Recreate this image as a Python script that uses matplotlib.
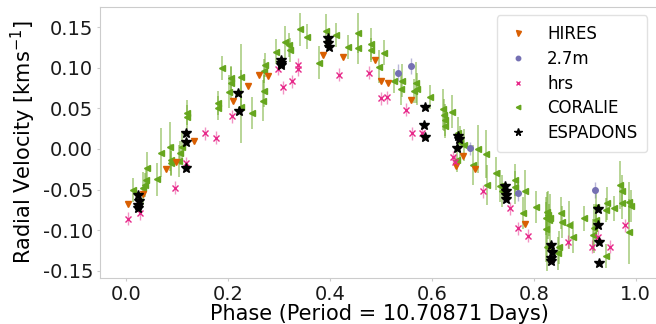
import matplotlib
matplotlib.use('Agg')
import matplotlib.pyplot as plt
import numpy as np

plt.rcParams['font.family'] = 'DejaVu Sans'
plt.rcParams['font.size'] = 14

# Phase-folded radial velocities per instrument (km/s)
hires_phase = [0.0024, 0.0318, 0.0776, 0.0972, 0.1336, 0.2098, 0.2393, 0.2609,
               0.2786, 0.3860, 0.4248, 0.4888, 0.4994, 0.5132, 0.5583, 0.6468,
               0.6617, 0.6847, 0.7829]
hires_rv = [-0.0679, -0.0559, -0.0251, -0.0160, 0.0102, 0.0593, 0.0778, 0.0914,
            0.0901, 0.1160, 0.1132, 0.1099, 0.0843, 0.0811, 0.0605, -0.0206,
            -0.0083, -0.0251, -0.0930]

m27_phase = [0.5328, 0.5589, 0.6749, 0.7697, 0.9204]
m27_rv = [0.0942, 0.1025, 0.0009, -0.0543, -0.0506]
m27_err = [0.010, 0.010, 0.008, 0.010, 0.010]

hrs_phase = [0.0035, 0.0265, 0.0953, 0.1163, 0.1542, 0.1764, 0.2067, 0.2971,
             0.3081, 0.3246, 0.3360, 0.3360, 0.4175, 0.4764, 0.4994, 0.5124,
             0.5485, 0.5603, 0.5805, 0.6420, 0.6454, 0.7010, 0.7534, 0.7682,
             0.7894, 0.8680, 0.9139, 0.9269, 0.9499, 0.9794]
hrs_rv = [-0.0860, -0.0794, -0.0479, -0.0173, 0.0194, 0.0136, 0.0401, 0.0988,
          0.0759, 0.0836, 0.1037, 0.0981, 0.0914, 0.0942, 0.0626, 0.0638,
          0.0481, 0.0194, 0.0201, -0.0102, -0.0157, -0.0521, -0.0732, -0.0975,
          -0.1068, -0.1144, -0.1206, -0.1083, -0.1206, -0.0938]
hrs_err = [0.008] * len(hrs_rv)

coralie_phase = [0.0134, 0.0330, 0.0363, 0.0397, 0.0383, 0.0599, 0.0672, 0.0855,
                 0.0874, 0.0874, 0.1084, 0.1051, 0.1031, 0.1183, 0.1183, 0.1870,
                 0.1804, 0.1798, 0.2053, 0.2059, 0.2020, 0.2259, 0.2250, 0.2460,
                 0.2721, 0.2701, 0.2692, 0.2676, 0.2937, 0.3114, 0.3198, 0.3212,
                 0.3399, 0.3540, 0.3788, 0.3913, 0.4116, 0.4554, 0.4554, 0.4358,
                 0.4798, 0.4804, 0.5065, 0.4961, 0.5261, 0.5407, 0.5399, 0.5688,
                 0.5701, 0.5654, 0.5969, 0.6224, 0.6244, 0.6257, 0.6257, 0.6389,
                 0.6519, 0.6552, 0.6631, 0.6499, 0.6813, 0.6912, 0.7063, 0.7259,
                 0.7077, 0.7338, 0.7371, 0.7633, 0.7633, 0.7835, 0.7780, 0.8045,
                 0.8255, 0.8287, 0.8320, 0.8242, 0.8306, 0.8236, 0.8255, 0.8497,
                 0.8471, 0.8536, 0.8550, 0.8694, 0.8778, 0.8988, 0.9218, 0.9218,
                 0.9191, 0.9171, 0.9420, 0.9434, 0.9420, 0.9578, 0.9696, 0.9729,
                 0.9741, 0.9872, 0.9906, 0.9878]
coralie_rv = [-0.0506, -0.0485, -0.0444, -0.0238, -0.0383, -0.0374, -0.0046, 0.0028,
              -0.0136, -0.0173, 0.0025, -0.0049, -0.0148, 0.0448, 0.0391, 0.0996,
              0.0564, 0.0502, 0.0873, 0.0811, 0.0707, 0.0889, 0.0522, 0.0441,
              0.1037, 0.0963, 0.0716, 0.0596, 0.1201, 0.1315, 0.1284, 0.1216,
              0.1475, 0.1386, 0.1065, 0.1460, 0.1407, 0.1428, 0.1243, 0.1256,
              0.1293, 0.1222, 0.1189, 0.1016, 0.0840, 0.0843, 0.0741, 0.0819,
              0.0737, 0.0716, 0.0638, 0.0490, 0.0420, 0.0358, 0.0284, 0.0460,
              0.0194, 0.0083, 0.0049, -0.0136, -0.0198, 0.0000, -0.0062, -0.0300,
              -0.0444, -0.0457, -0.0515, -0.0383, -0.0473, -0.0515, -0.0790, -0.0712,
              -0.0774, -0.0815, -0.0856, -0.0856, -0.0877, -0.0991, -0.1206, -0.1214,
              -0.1288, -0.0786, -0.0898, -0.0938, -0.1083, -0.0856, -0.0712, -0.0877,
              -0.0979, -0.1062, -0.1321, -0.0670, -0.0753, -0.0732, -0.0444, -0.0515,
              -0.0663, -0.0651, -0.0704, -0.1021]
coralie_err = [0.015, 0.020, 0.015, 0.020, 0.015, 0.020, 0.030, 0.030,
               0.020, 0.015, 0.020, 0.015, 0.020, 0.015, 0.015, 0.015,
               0.015, 0.015, 0.015, 0.020, 0.020, 0.040, 0.045, 0.020,
               0.015, 0.015, 0.020, 0.025, 0.015, 0.020, 0.015, 0.015,
               0.020, 0.015, 0.020, 0.020, 0.015, 0.025, 0.020, 0.015,
               0.020, 0.015, 0.015, 0.020, 0.015, 0.020, 0.020, 0.025,
               0.020, 0.015, 0.015, 0.025, 0.020, 0.020, 0.015, 0.020,
               0.020, 0.020, 0.020, 0.015, 0.025, 0.030, 0.030, 0.020,
               0.025, 0.020, 0.020, 0.020, 0.020, 0.025, 0.020, 0.020,
               0.025, 0.030, 0.030, 0.020, 0.020, 0.040, 0.030, 0.020,
               0.020, 0.020, 0.020, 0.030, 0.020, 0.015, 0.020, 0.020,
               0.030, 0.020, 0.015, 0.020, 0.015, 0.015, 0.030, 0.020,
               0.020, 0.025, 0.020, 0.040]

espadons_phase = [0.0232, 0.0251, 0.0232, 0.0220, 0.1169, 0.1163, 0.1163, 0.2196,
                  0.2210, 0.3035, 0.3035, 0.3026, 0.3949, 0.3959, 0.3978, 0.5855,
                  0.5851, 0.5855, 0.6519, 0.6538, 0.6499, 0.7436, 0.7450, 0.7456,
                  0.7456, 0.8334, 0.8354, 0.8334, 0.8340, 0.9269, 0.9257, 0.9283,
                  0.9283]
espadons_rv = [-0.0568, -0.0638, -0.0691, -0.0732, 0.0194, 0.0090, -0.0235, 0.0688,
               0.0469, 0.1099, 0.1058, 0.1031, 0.1364, 0.1309, 0.1256, 0.0512,
               0.0293, 0.0144, 0.0160, 0.0120, 0.0012, -0.0457, -0.0519, -0.0568,
               -0.0621, -0.1185, -0.1268, -0.1349, -0.1379, -0.0744, -0.0938, -0.1144,
               -0.1411]

c_orange = '#d95f02'
c_purple = '#7570b3'
c_pink = '#e7298a'
c_green = '#66a61e'

fig = plt.figure(figsize=(6.56, 3.24), dpi=100)
ax = fig.add_axes([0.1524, 0.142, 0.853, 0.8364])

# error bars first, markers on top
ax.errorbar(coralie_phase, coralie_rv, yerr=coralie_err, fmt='none',
            ecolor=c_green, elinewidth=1.3, alpha=0.5, zorder=1)
ax.errorbar(hrs_phase, hrs_rv, yerr=hrs_err, fmt='none',
            ecolor=c_pink, elinewidth=1.0, alpha=0.5, zorder=1)
ax.errorbar(m27_phase, m27_rv, yerr=m27_err, fmt='none',
            ecolor=c_purple, elinewidth=1.0, alpha=0.5, zorder=1)

ax.plot(hires_phase, hires_rv, 'v', color=c_orange, ms=4.5, label='HIRES', zorder=3)
ax.plot(m27_phase, m27_rv, 'o', color=c_purple, ms=4, label='2.7m', zorder=3)
ax.plot(hrs_phase, hrs_rv, 'x', color=c_pink, ms=4, mew=1.0, label='hrs', zorder=3)
ax.plot(coralie_phase, coralie_rv, '<', color=c_green, ms=4, label='CORALIE', zorder=2)
ax.plot(espadons_phase, espadons_rv, '*', color='black', ms=7, label='ESPADONS', zorder=4)

ax.set_xlim(-0.052, 1.047)
ax.set_ylim(-0.159, 0.175)
ax.set_xticks([0.0, 0.2, 0.4, 0.6, 0.8, 1.0])
ax.set_yticks([-0.15, -0.10, -0.05, 0.00, 0.05, 0.10, 0.15])
ax.yaxis.set_major_formatter(matplotlib.ticker.FormatStrFormatter('%.2f'))

for s in ax.spines.values():
    s.set_color('#cccccc')
ax.tick_params(colors='#cccccc', labelcolor='#1a1a1a', length=2, pad=3,
               labelsize=14)

ax.set_xlabel('Phase (Period = 10.70871 Days)', fontsize=15, labelpad=0)
ax.set_ylabel(r'Radial Velocity [kms$^{-1}$]', fontsize=15, labelpad=3)

leg = ax.legend(loc='upper right', fontsize=12, markerscale=0.8,
                bbox_to_anchor=(0.993, 1.0), borderpad=0.6, labelspacing=0.4,
                handlelength=1.3, handletextpad=1.1, framealpha=0.95)
leg.get_frame().set_edgecolor('#e0e0e0')

fig.savefig('out.png', dpi=100)
